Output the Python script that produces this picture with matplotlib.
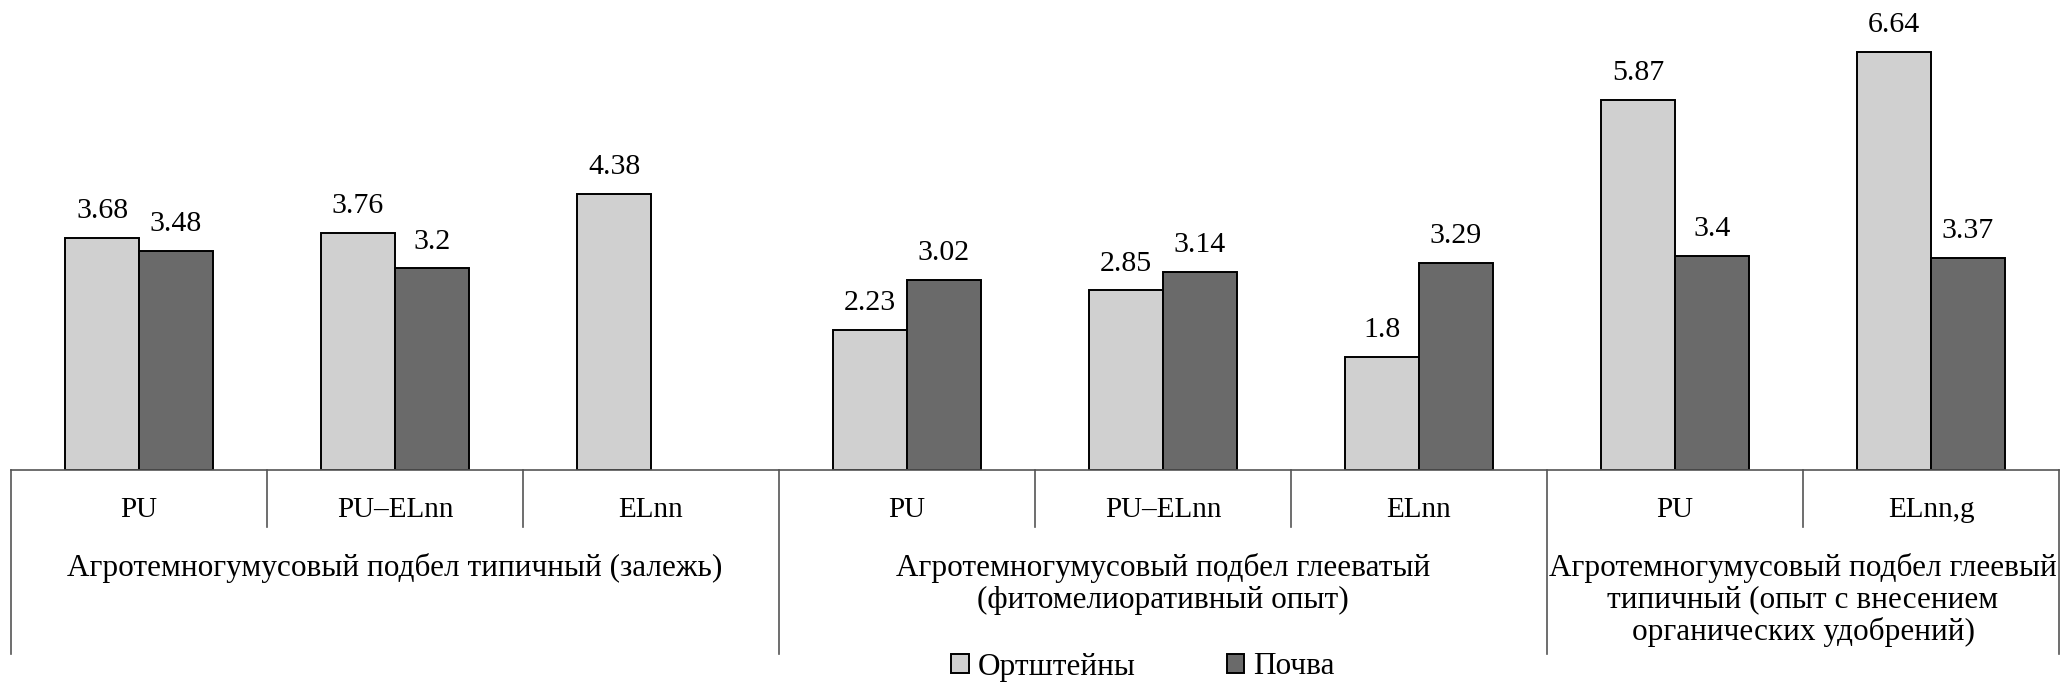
import numpy as np
import matplotlib
matplotlib.use("Agg")
import matplotlib.pyplot as plt
from matplotlib.patches import Patch

plt.rcParams['font.family'] = ['Liberation Serif', 'DejaVu Serif']

# данные
categories = ["PU", "PU\u2013ELnn", "ELnn", "PU", "PU\u2013ELnn", "ELnn", "PU", "ELnn,g"]
groups = ["Агротемногумусовый подбел типичный (залежь)",
          "Агротемногумусовый подбел глееватый\n(фитомелиоративный опыт)",
          "Агротемногумусовый подбел глеевый\nтипичный (опыт с внесением\nорганических удобрений)"]
group_sizes = [3, 3, 2]
ortstein = [3.68, 3.76, 4.38, 2.23, 2.85, 1.8, 5.87, 6.64]
soil = [3.48, 3.2, np.nan, 3.02, 3.14, 3.29, 3.4, 3.37]
series_names = ["Ортштейны", "Почва"]

c_light = "#d0d0d0"
c_dark = "#6a6a6a"
line_c = "#555555"

fig = plt.figure(figsize=(20.67, 6.96), dpi=100)
W, H = 2067, 696
x0, x1, ybase = 11, 2059, 470
ax = fig.add_axes([x0 / W, 1 - ybase / H, (x1 - x0) / W, (ybase - 10) / H])

n = len(categories)
x = np.arange(n)
w = 0.289
ax.bar(x - w / 2, ortstein, w, color=c_light, edgecolor="black", linewidth=1.4)
ax.bar(x + w / 2, soil, w, color=c_dark, edgecolor="black", linewidth=1.4)

for xi, v in zip(x, ortstein):
    ax.annotate(f"{v:g}", (xi - w / 2, v), xytext=(0, 10), textcoords="offset points",
                ha="center", va="bottom", fontsize=21.5)
for xi, v in zip(x, soil):
    if not np.isnan(v):
        ax.annotate(f"{v:g}", (xi + w / 2, v), xytext=(0, 10), textcoords="offset points",
                    ha="center", va="bottom", fontsize=21.5)

ax.set_xlim(-0.5, n - 0.5)
ax.set_ylim(0, (ybase - 10) / 63)
ax.set_xticks([])
ax.set_yticks([])
for s in ["top", "left", "right"]:
    ax.spines[s].set_visible(False)
ax.spines["bottom"].set_color(line_c)
ax.spines["bottom"].set_linewidth(1.2)

ph = ybase - 10  # высота осей в пикселях
tr = ax.get_xaxis_transform()

# разделители категорий и групп
bounds = np.cumsum([0] + group_sizes)
for i in range(n + 1):
    y_end = -(654 - ybase) / ph if i in bounds else -(527 - ybase) / ph
    ax.plot([i - 0.5, i - 0.5], [0, y_end], color=line_c, lw=1.2,
            transform=tr, clip_on=False)

for xi, lab in zip(x, categories):
    ax.text(xi, -(510 - ybase) / ph, lab, transform=tr, ha="center", va="center",
            fontsize=21)

for g, (lab, b0, b1) in enumerate(zip(groups, bounds[:-1], bounds[1:])):
    ax.text((b0 + b1 - 1) / 2, -(553 - ybase) / ph, lab, transform=tr, ha="center",
            va="top", fontsize=22.5, linespacing=1.12, multialignment="center")

handles = [Patch(facecolor=c_light, edgecolor="black", linewidth=1.4),
           Patch(facecolor=c_dark, edgecolor="black", linewidth=1.4)]
fig.legend(handles, series_names, loc="center", bbox_to_anchor=(1143 / W, 1 - 667 / H),
           ncol=2, frameon=False, fontsize=22.5, handlelength=0.55, handleheight=0.55,
           handletextpad=0.3, columnspacing=2.9, borderpad=0)

fig.savefig("out.png", dpi=100)
